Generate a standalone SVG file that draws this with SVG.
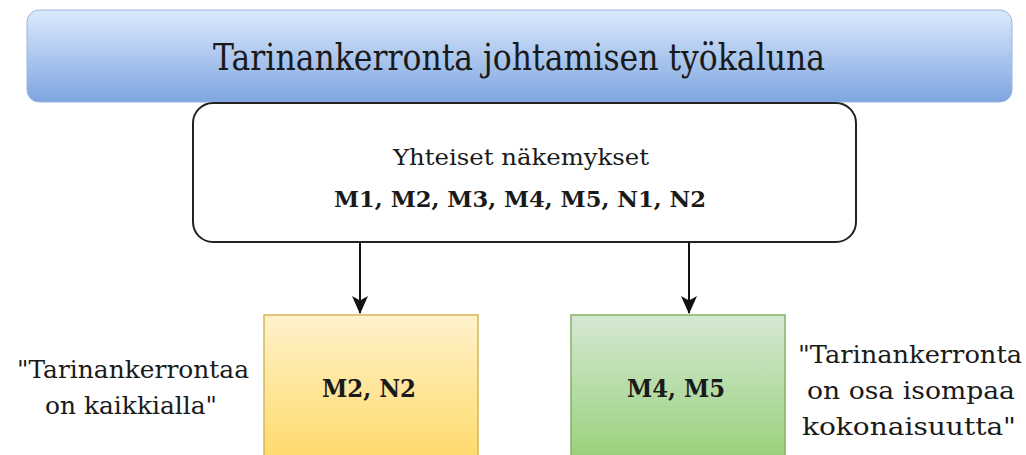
<svg xmlns="http://www.w3.org/2000/svg" width="1026" height="455" viewBox="0 0 1026 455">
<style>
text{font-family:"DejaVu Serif","Liberation Serif",serif;fill:#1a1a1a;text-anchor:middle}
.lbl{font-size:25px}
.box{font-size:25px;font-weight:bold}
.conn{stroke:#111;stroke-width:2;fill:none}
</style>
<defs>
<linearGradient id="gBlue" x1="0" y1="0" x2="0" y2="1"><stop offset="0" stop-color="#dce9fc"/><stop offset="1" stop-color="#7ea6e0"/></linearGradient>
<linearGradient id="gYel" x1="0" y1="0" x2="0" y2="1"><stop offset="0" stop-color="#fff2cc"/><stop offset="1" stop-color="#ffd966"/></linearGradient>
<linearGradient id="gGrn" x1="0" y1="0" x2="0" y2="1"><stop offset="0" stop-color="#d5e8d4"/><stop offset="1" stop-color="#97d077"/></linearGradient>
<marker id="arr" viewBox="0 0 20 18" refX="19" refY="9" markerWidth="18" markerHeight="16" markerUnits="userSpaceOnUse" orient="auto"><path d="M0,0 L20,9 L0,18 L5,9 z" fill="#111"/></marker>
</defs>
<rect width="1026" height="455" fill="#fff"/>
<g id="title">
<rect x="27" y="10" width="985" height="92" rx="12" fill="url(#gBlue)" stroke="#9ab6df" stroke-width="1"/>
<text x="519" y="70" font-size="37" textLength="612" lengthAdjust="spacingAndGlyphs">Tarinankerronta johtamisen työkaluna</text>
</g>
<g id="shared">
<rect x="193" y="103" width="663" height="139" rx="20" fill="#fff" stroke="#222" stroke-width="2"/>
<text x="521" y="165" font-size="23" textLength="256" lengthAdjust="spacingAndGlyphs">Yhteiset näkemykset</text>
<text x="520" y="207" font-size="23" font-weight="bold" textLength="372" lengthAdjust="spacingAndGlyphs">M1, M2, M3, M4, M5, N1, N2</text>
</g>
<g id="connectors">
<line class="conn" x1="360" y1="243" x2="360" y2="313" marker-end="url(#arr)"/>
<line class="conn" x1="689" y1="243" x2="689" y2="313" marker-end="url(#arr)"/>
</g>
<g id="yellow">
<rect x="264" y="315" width="214" height="150" fill="url(#gYel)" stroke="#d6b656" stroke-width="1.5"/>
<text class="box" x="369" y="397" textLength="94" lengthAdjust="spacingAndGlyphs">M2, N2</text>
</g>
<g id="green">
<rect x="571" y="315" width="214" height="150" fill="url(#gGrn)" stroke="#82b366" stroke-width="1.5"/>
<text class="box" x="676" y="397" textLength="98" lengthAdjust="spacingAndGlyphs">M4, M5</text>
</g>
<g id="leftLabel">
<text class="lbl" x="133" y="378" textLength="232" lengthAdjust="spacingAndGlyphs">"Tarinankerrontaa</text>
<text class="lbl" x="131" y="414" textLength="172" lengthAdjust="spacingAndGlyphs">on kaikkialla"</text>
</g>
<g id="rightLabel">
<text class="lbl" x="910" y="363" textLength="224" lengthAdjust="spacingAndGlyphs">"Tarinankerronta</text>
<text class="lbl" x="911" y="399" textLength="208" lengthAdjust="spacingAndGlyphs">on osa isompaa</text>
<text class="lbl" x="909" y="435" textLength="214" lengthAdjust="spacingAndGlyphs">kokonaisuutta"</text>
</g>
</svg>
